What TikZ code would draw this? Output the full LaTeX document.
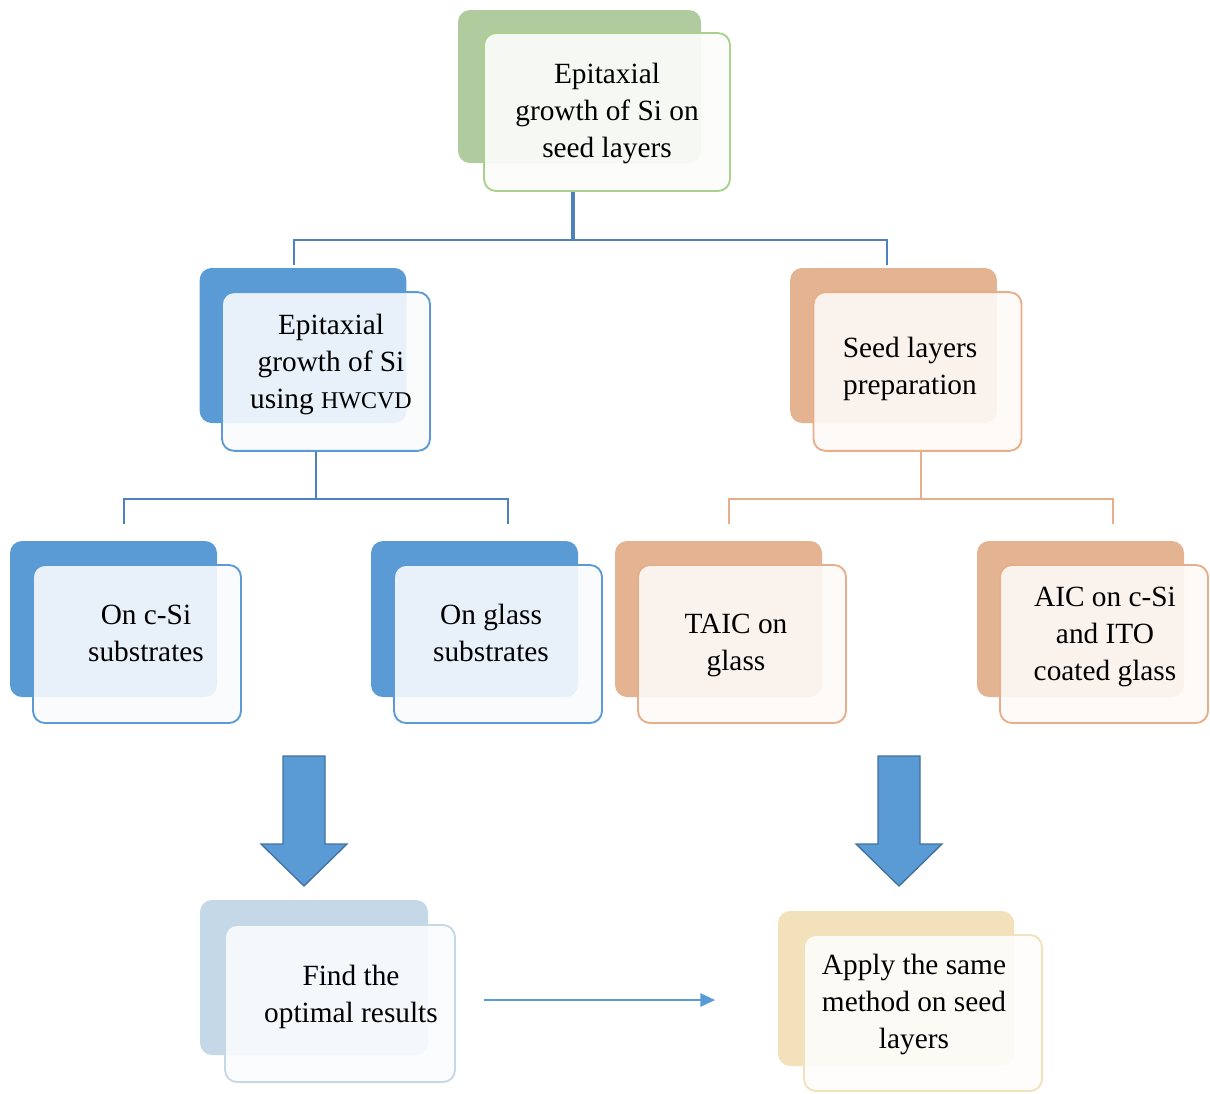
\documentclass[tikz,border=0pt]{standalone}
\usepackage{fontspec}
\setmainfont{Liberation Serif}
\usepackage{xcolor}
\definecolor{cGreen}{HTML}{B0CB9E}
\definecolor{cGreenLine}{HTML}{A9D18E}
\definecolor{cBlue}{HTML}{5B9BD5}
\definecolor{cBlueDark}{HTML}{41719C}
\definecolor{cTree}{HTML}{4F81BD}
\definecolor{cOrange}{HTML}{E3B392}
\definecolor{cOrangeLine}{HTML}{E8AE8A}
\definecolor{cSteel}{HTML}{C5D8E8}
\definecolor{cSand}{HTML}{F2E1BA}
\usetikzlibrary{positioning,arrows.meta,calc}
\tikzset{
  node-back/.style={rounded corners=9pt,inner sep=0pt},
  node-front/.style={rounded corners=9pt,inner sep=0pt,line width=1.4pt},
  node-text/.style={align=center,inner sep=0pt,yshift=-2.25pt,
    font=\fontsize{22}{27.75}\selectfont},
  size-top/.style={minimum width=184.5pt,minimum height=118.5pt},
  size-top-back/.style={minimum width=182.25pt,minimum height=114.75pt},
  size-mid/.style={minimum width=156pt,minimum height=119pt},
  size-mid-back/.style={minimum width=155pt,minimum height=116.25pt},
  size-low/.style={minimum width=156pt,minimum height=118.5pt},
  size-low-back/.style={minimum width=155.25pt,minimum height=117pt},
  back-green/.style={node-back,fill=cGreen},
  back-blue/.style={node-back,fill=cBlue},
  back-orange/.style={node-back,fill=cOrange},
  back-steel/.style={node-back,fill=cSteel},
  back-sand/.style={node-back,fill=cSand},
  front-green/.style={node-front,draw=cGreenLine,fill=cGreen!4,fill opacity=0.92},
  front-blue/.style={node-front,draw=cBlue,fill=cBlue!4,fill opacity=0.9},
  front-orange/.style={node-front,draw=cOrangeLine,fill=cOrange!8,fill opacity=0.9},
  front-steel/.style={node-front,draw=cSteel,fill=cSteel!8,fill opacity=0.9},
  front-sand/.style={node-front,draw=cSand,fill=cSand!6,fill opacity=0.9},
  tree-blue/.style={draw=cTree,line width=2.2pt},
  tree-blue-thin/.style={draw=cTree,line width=1.5pt},
  tree-orange/.style={draw=cOrangeLine,line width=1.5pt},
  block-arrow/.style={fill=cBlue,draw=cBlueDark,line width=1pt,line join=miter},
  arrow/.style={-{Triangle[length=11pt,width=10pt]},draw=cBlue,line width=1.4pt},
}
\begin{document}
\begin{tikzpicture}[x=0.75pt,y=-0.75pt]
  \useasboundingbox (0,0) rectangle (1210,1093);
  % root
  \node[back-green,size-top-back] (top-back) at (579.5,86.5) {};
  \node[front-green,size-top]     (top)      at (607,112) {};
  \node[node-text] (top-txt) at (607,110) {Epitaxial\\growth of Si on\\seed layers};
  % second level
  \node[back-blue,size-mid-back]    (epi-back)  at (303,345.5) {};
  \node[front-blue,size-mid]        (epi)       at (326,371.5) {};
  \node[node-text] (epi-txt) at (331,361) {Epitaxial\\growth of Si\\using {\fontsize{18}{27.75}\selectfont HWCVD}};
  \node[back-orange,size-mid-back]  (seed-back) at (893.5,345.5) {};
  \node[front-orange,size-mid]      (seed)      at (917.5,371.5) {};
  \node[node-text] (seed-txt) at (910,366) {Seed layers\\preparation};
  % third level
  \node[back-blue,size-low-back]    (csi-back)   at (113.5,619) {};
  \node[front-blue,size-low]        (csi)        at (137,644) {};
  \node[node-text] (csi-txt) at (146,630) {On c-Si\\substrates};
  \node[back-blue,size-low-back]    (glass-back) at (474.5,619) {};
  \node[front-blue,size-low]        (glass)      at (498,644) {};
  \node[node-text] (glass-txt) at (491,630) {On glass\\substrates};
  \node[back-orange,size-low-back]  (taic-back)  at (718.5,619) {};
  \node[front-orange,size-low]      (taic)       at (742,644) {};
  \node[node-text] (taic-txt) at (736,642) {TAIC on\\glass};
  \node[back-orange,size-low-back]  (aic-back)   at (1080.5,619) {};
  \node[front-orange,size-low]      (aic)        at (1104,644) {};
  \node[node-text] (aic-txt) at (1105,634) {AIC on c-Si\\and ITO\\coated glass};
  % results
  \node[back-steel,minimum width=171pt,minimum height=116.25pt] (find-back) at (314,977.5) {};
  \node[front-steel,minimum width=172.5pt,minimum height=117.75pt] (find) at (340,1003.5) {};
  \node[node-text] (find-txt) at (351,994) {Find the\\optimal results};
  \node[back-sand,minimum width=177pt,minimum height=116.25pt] (apply-back) at (896,988.5) {};
  \node[front-sand,minimum width=178.5pt,minimum height=117pt] (apply) at (923,1013) {};
  \node[node-text] (apply-txt) at (914,1001) {Apply the same\\method on seed\\layers};
  % tree connectors
  \draw[tree-blue,line width=3pt] (top.south -| 573,0) -- (573,240);
  \draw[tree-blue] (epi-back.north -| 294,0) ++(0,-3) -- (294,240) -- (887,240)
    -- (887,265);
  \draw[tree-blue-thin] (epi.south -| 316,0) -- (316,499);
  \draw[tree-blue-thin] (124,524) -- (124,499) -- (508,499) -- (508,524);
  \draw[tree-orange] (seed.south -| 921,0) -- (921,499);
  \draw[tree-orange] (729,524) -- (729,499) -- (1113,499) -- (1113,524);
  % block arrows
  \draw[block-arrow] (283,756) -- (325,756) -- (325,844) -- (347,844) -- (304,886)
    -- (261,844) -- (283,844) -- cycle;
  \draw[block-arrow] (878,756) -- (920,756) -- (920,844) -- (942,844) -- (899,886)
    -- (856,844) -- (878,844) -- cycle;
  % link between results
  \draw[arrow,shorten <=21pt,shorten >=66pt] ([yshift=2.6pt]find.east)
    -- ([yshift=2.6pt]find.east -| apply.west);
\end{tikzpicture}
\end{document}
